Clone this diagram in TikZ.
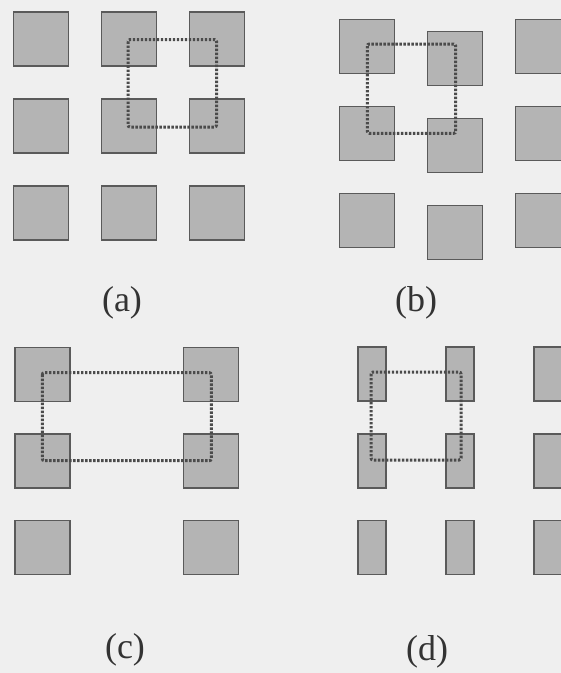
\documentclass[tikz,border=0pt]{standalone}
\usepackage{fontspec}
\setmainfont{Liberation Serif}
\usetikzlibrary{calc}
\definecolor{paper}{RGB}{239,239,239}
\definecolor{padfill}{RGB}{180,180,180}
\definecolor{padedge}{RGB}{90,90,90}
\definecolor{celledge}{RGB}{75,75,75}

\begin{document}
\begin{tikzpicture}[x=1pt,y=-1pt]
 \tikzstyle{pad}=[fill=padfill,draw=padedge,line width=1.4pt]
 \tikzstyle{cell}=[draw=celledge,line width=3pt,dash pattern=on 2.4pt off 1.6pt,rounded corners=2pt]
 \tikzstyle{tag}=[font=\fontsize{36}{40}\selectfont,text=black!80]
\fill[paper] (0,0) rectangle (561,673);
\useasboundingbox (0,0) rectangle (561,673);
% (a) square lattice
\foreach \x in {41,129,217}
 \foreach \y in {39,126,213}
  \draw[pad] (\x-27.5,\y-27) rectangle (\x+27.5,\y+27);
\draw[cell] (128,39.5) rectangle (216.5,127);
\node[tag] (la) at (122,303) {(a)};
% (b) shifted middle column
\foreach \x/\dy in {367/0,455/12,543/0}
 \foreach \y in {46.5,133.5,220.5}
  \draw[pad] (\x-27.5,\y+\dy-27) rectangle (\x+27.5,\y+\dy+27);
\draw[cell] (367.3,44) rectangle (455.7,133.3);
\node[tag] (lb) at (416,303) {(b)};
% (c) stretched lattice
\foreach \x in {42.5,211}
 \foreach \y in {374.5,461,547.5}
  \draw[pad] (\x-27.5,\y-27) rectangle (\x+27.5,\y+27);
\draw[cell] (42.3,372.7) rectangle (211.3,460.7);
\node[tag] (lc) at (125,650) {(c)};
% (d) narrow pads
\foreach \x in {372,460,548}
 \foreach \y in {374,461,547.5}
  \draw[pad] (\x-14,\y-27) rectangle (\x+14,\y+27);
\draw[cell] (371,372) rectangle (461,460);
\node[tag] (ld) at (427,652) {(d)};
\end{tikzpicture}
\end{document}
